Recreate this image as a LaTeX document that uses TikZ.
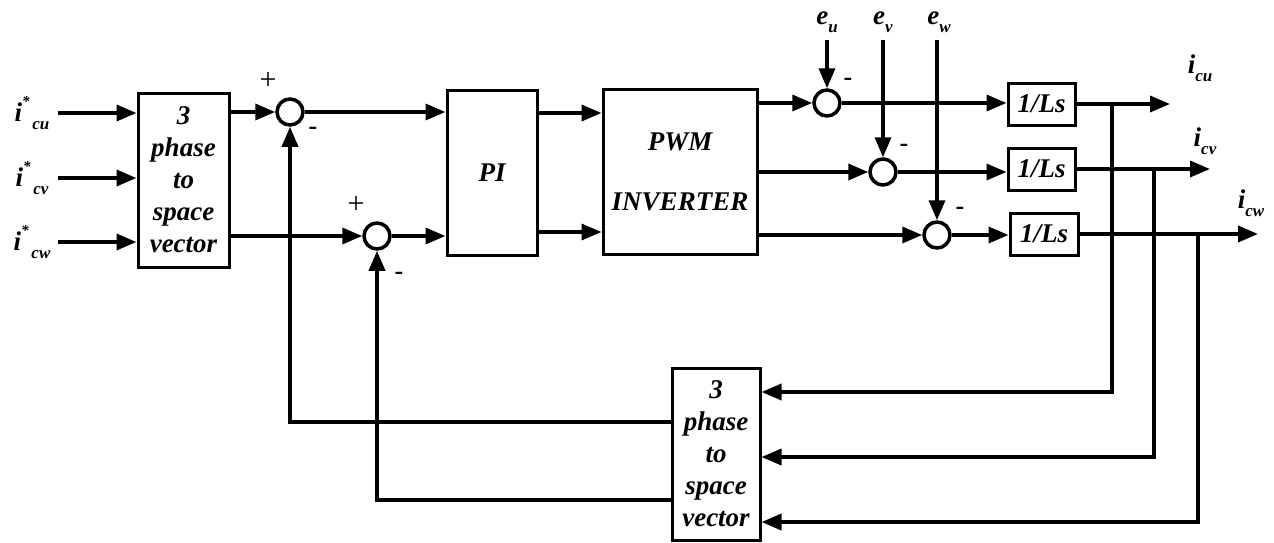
\documentclass[tikz,border=0pt]{standalone}
\usepackage{fontspec}
\setmainfont{Liberation Serif}
\usetikzlibrary{arrows.meta}
\newcommand\mysub[1]{\raisebox{-0.3em}{\fontsize{17}{17}\selectfont #1}}
\newcommand\mystar{\raisebox{0.55em}{\fontsize{15}{15}\selectfont *}}
\begin{document}
\begin{tikzpicture}[x=1pt,y=-1pt,
 blk/.style={draw,line width=3pt,inner sep=0pt,font=\bfseries\itshape\fontsize{27}{32}\selectfont,align=center},
 sum/.style={circle,draw,line width=3.5pt,minimum size=26pt,inner sep=0pt},
 ln/.style={line width=3.5pt},
 arr/.style={ln,-{Triangle[length=20pt,width=16pt]}},
 lab/.style={inner sep=0pt,font=\bfseries\itshape\fontsize{27}{27}\selectfont},
 sgn/.style={inner sep=0pt,font=\bfseries\fontsize{26}{26}\selectfont},
 plus/.style={inner sep=0pt,font=\fontsize{30}{30}\selectfont}]
\useasboundingbox (0,0) rectangle (1274,542);
% blocks
\node[blk,minimum width=91pt,minimum height=174pt] (inblk) at (183.5,180) {3\\phase\\to\\space\\vector};
\node[blk,minimum width=90pt,minimum height=165pt] (pi) at (492,172.5) {PI};
\node[blk,minimum width=154pt,minimum height=165pt] (pwm) at (680,171.5) {PWM\\[28pt]INVERTER};
\node[blk,minimum width=67pt,minimum height=42pt] (L1) at (1041.5,104) {1/Ls};
\node[blk,minimum width=67pt,minimum height=42pt] (L2) at (1041.5,169) {1/Ls};
\node[blk,minimum width=68pt,minimum height=42pt] (L3) at (1044,234) {1/Ls};
\node[blk,minimum width=88pt,minimum height=172pt] (fb) at (716,454) {3\\phase\\to\\space\\vector};
% summing junctions
\node[sum] (s1) at (290,112) {};
\node[sum] (s2) at (377,236) {};
\node[sum] (su) at (827,103) {};
\node[sum] (sv) at (883,172) {};
\node[sum] (sw) at (937,235) {};
% signs
\node[plus] (p1) at (268,81) {+};
\node[sgn] (m1) at (313,131) {-};
\node[plus] (p2) at (356,205) {+};
\node[sgn] (m2) at (399,276) {-};
\node[sgn] (mu) at (848,82) {-};
\node[sgn] (mv) at (904,148) {-};
\node[sgn] (mw) at (960,211) {-};
% input labels
\node[lab] (icu) at (32,113) {i\mystar\mysub{\,cu}};
\node[lab] (icv) at (32,178) {i\mystar\mysub{\,cv}};
\node[lab] (icw) at (32,242) {i\mystar\mysub{\,cw}};
\coordinate (a1) at (58,113);
\coordinate (a2) at (58,178);
\coordinate (a3) at (58,242);
\draw[arr] (a1) -- (inblk.west |- a1);
\draw[arr] (a2) -- (inblk.west |- a2);
\draw[arr] (a3) -- (inblk.west |- a3);
% e inputs
\node[lab] (eu) at (827,22) {e\mysub{u}};
\node[lab] (ev) at (883,22) {e\mysub{v}};
\node[lab] (ew) at (939,22) {e\mysub{w}};
\coordinate (eu0) at (827,40);
\coordinate (ev0) at (883,40);
\coordinate (ew0) at (937,40);
\draw[arr] (eu0) -- (su.north);
\draw[arr] (ev0) -- (sv.north);
\draw[arr] (ew0) -- (sw.north);
% forward path
\draw[arr] (inblk.east |- s1) -- (s1.west);
\draw[arr] (inblk.east |- s2) -- (s2.west);
\draw[arr] (s1.east) -- (pi.west |- s1);
\draw[arr] (s2.east) -- (pi.west |- s2);
\coordinate (y113) at (0,113);
\coordinate (y232) at (0,232);
\draw[arr] (pi.east |- y113) -- (pwm.west |- y113);
\draw[arr] (pi.east |- y232) -- (pwm.west |- y232);
\draw[arr] (pwm.east |- su) -- (su.west);
\draw[arr] (pwm.east |- sv) -- (sv.west);
\draw[arr] (pwm.east |- sw) -- (sw.west);
\draw[arr] (su.east) -- (L1.west |- su);
\draw[arr] (sv.east) -- (L2.west |- sv);
\draw[arr] (sw.east) -- (L3.west |- sw);
% outputs
\coordinate (o1) at (1170,104);
\coordinate (o2) at (1210,169);
\coordinate (o3) at (1258,234);
\draw[arr] (L1.east) -- (o1);
\draw[arr] (L2.east) -- (o2);
\draw[arr] (L3.east) -- (o3);
\node[lab] (ocu) at (1200,68) {i\mysub{cu}};
\node[lab] (ocv) at (1205,141) {i\mysub{cv}};
\node[lab] (ocw) at (1251,203) {i\mysub{cw}};
% feedback branches
\coordinate (b1) at (1112,104);
\coordinate (b2) at (1154,169);
\coordinate (b3) at (1198,234);
\coordinate (f1) at (0,392);
\coordinate (f2) at (0,457);
\coordinate (f3) at (0,522);
\draw[arr] (b1) |- (fb.east |- f1);
\draw[arr] (b2) |- (fb.east |- f2);
\draw[arr] (b3) |- (fb.east |- f3);
\coordinate (g1) at (0,422);
\coordinate (g2) at (0,500);
\draw[arr] (fb.west |- g1) -| (s1.south);
\draw[arr] (fb.west |- g2) -| (s2.south);
\end{tikzpicture}
\end{document}
